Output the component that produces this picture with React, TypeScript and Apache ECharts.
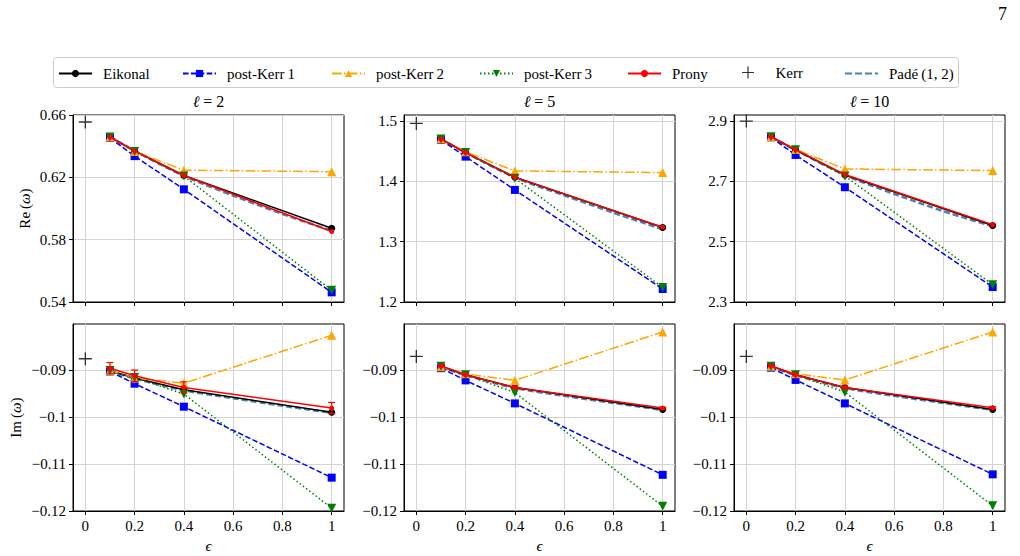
import React, { useEffect, useRef } from "react";
import * as echarts from "echarts";

// ---------------- data ----------------
const EPS = [0.1, 0.2, 0.4, 1];
const PADE_EPS = [0.1, 0.2, 0.4, 0.6, 0.8, 1];
const ELLS = ["2", "5", "10"];
const X_TICKS = [0, 0.2, 0.4, 0.6, 0.8, 1];
const RE_TICKS = [
  [0.54, 0.58, 0.62, 0.66],
  [1.2, 1.3, 1.4, 1.5],
  [2.3, 2.5, 2.7, 2.9],
];
const RE_RANGE = [
  [0.54, 0.66],
  [1.2, 1.51],
  [2.3, 2.92],
];
const IM_TICKS = [-0.12, -0.11, -0.1, -0.09];
const IM_RANGE = [-0.12, -0.0802];

// Real parts, one row per l = 2, 5, 10
const RE_EIKONAL = [
  [0.6459, 0.637, 0.6212, 0.5873],
  [1.4702, 1.4476, 1.4068, 1.3235],
  [2.848, 2.804, 2.7213, 2.5537],
];
const RE_PK1 = [
  [0.6453, 0.6336, 0.6123, 0.5462],
  [1.4686, 1.441, 1.3858, 1.2215],
  [2.846, 2.7875, 2.6805, 2.3497],
];
const RE_PK2 = [
  [0.6459, 0.6366, 0.6246, 0.6236],
  [1.4702, 1.449, 1.4173, 1.4145],
  [2.848, 2.806, 2.7412, 2.7357],
];
const RE_PK3 = [
  [0.6459, 0.6366, 0.6208, 0.5475],
  [1.4702, 1.4478, 1.4051, 1.2242],
  [2.848, 2.805, 2.718, 2.3574],
];
const RE_PRONY = [
  [0.6459, 0.637, 0.6212, 0.5852],
  [1.4702, 1.4476, 1.407, 1.324],
  [2.848, 2.805, 2.7225, 2.556],
];
const RE_PADE = [
  [0.6459, 0.637, 0.621, 0.6083, 0.5965, 0.5857],
  [1.4702, 1.4476, 1.4065, 1.3768, 1.348, 1.3207],
  [2.848, 2.804, 2.721, 2.6585, 2.601, 2.551],
];
const RE_KERR = [0.6555, 1.4961, 2.9];

// Imaginary parts
const IM_EIKONAL = [
  [-0.0902, -0.0917, -0.0942, -0.099],
  [-0.0893, -0.091, -0.0937, -0.0984],
  [-0.0892, -0.091, -0.0937, -0.0984],
];
const IM_PK1 = [
  [-0.0903, -0.0929, -0.0978, -0.1129],
  [-0.0896, -0.0922, -0.0971, -0.1123],
  [-0.0895, -0.0921, -0.0971, -0.1122],
];
const IM_PK2 = [
  [-0.0901, -0.0917, -0.0928, -0.0826],
  [-0.0893, -0.0908, -0.0922, -0.0819],
  [-0.0892, -0.0908, -0.0921, -0.0819],
];
const IM_PK3 = [
  [-0.0901, -0.0916, -0.0951, -0.1194],
  [-0.0892, -0.091, -0.0948, -0.119],
  [-0.0892, -0.091, -0.0947, -0.1189],
];
const IM_PRONY = [
  [-0.0896, -0.0912, -0.0937, -0.0981],
  [-0.0891, -0.091, -0.0937, -0.0981],
  [-0.0891, -0.091, -0.0937, -0.098],
];
const IM_PRONY_ERR = [
  [0.0012, 0.0012, 0.0012, 0.0012],
  [0.0002, 0.0002, 0.0002, 0.0002],
  [0.0002, 0.0002, 0.0002, 0.0002],
];
const IM_PADE = [
  [-0.0902, -0.0918, -0.0943, -0.096, -0.0976, -0.0991],
  [-0.0893, -0.0911, -0.0938, -0.0955, -0.097, -0.0985],
  [-0.0892, -0.0911, -0.0938, -0.0955, -0.097, -0.0985],
];
const IM_KERR = [-0.0876, -0.0871, -0.0871];

const NAMES = ["Eikonal", "post-Kerr\u20091", "post-Kerr\u20092", "post-Kerr\u20093", "Prony", "Kerr", "Pad\u00e9\u2009(1, 2)"];

// ---------------- styling ----------------
const FONT = "'Liberation Serif', 'DejaVu Serif', serif";
const COL_LEFT = [73, 404, 734];
const ROW_TOP = [115, 324];
const GW = 271;
const GH = 187;
const LEGEND_LEFT = [58, 182, 331, 479, 627, 742, 845];

const DOWN_TRI = "path://M0,0L10,0L5,9Z";
const PLUS = "path://M9,0h2v20h-2z M0,9h20v2h-20z";
const DASH_ICON = "path://M0,0h7v2.2h-7z M10,0h7v2.2h-7z M20,0h7v2.2h-7z M30,0h3v2.2h-3z";

const pairs = (xs: number[], ys: number[]) => xs.map((x, i) => [x, ys[i]]);
const fmtIm = (v: number) => String(parseFloat(v.toFixed(3))).replace("-", "\u2212");

export default function App() {
  const ref = useRef<HTMLDivElement>(null);
  useEffect(() => {
    if (!ref.current) return;
    const chart = echarts.init(ref.current, undefined, { renderer: "svg" });

    const grids: any[] = [];
    const xAxes: any[] = [];
    const yAxes: any[] = [];
    const series: any[] = [];
    const titles: any[] = [];

    for (let r = 0; r < 2; r++) {
      for (let c = 0; c < 3; c++) {
        const idx = r * 3 + c;
        grids.push({
          left: COL_LEFT[c],
          top: ROW_TOP[r],
          width: GW,
          height: GH,
          show: true,
          borderColor: "#000",
          borderWidth: 1,
          backgroundColor: "transparent",
        });
        xAxes.push({
          type: "value",
          gridIndex: idx,
          min: -0.05,
          max: 1.05,
          axisLine: { show: true, onZero: false, lineStyle: { color: "#000", width: 1 } },
          axisTick: { show: true, customValues: X_TICKS, length: 4, lineStyle: { color: "#000" } },
          axisLabel: {
            show: r === 1,
            customValues: X_TICKS,
            margin: 7,
            formatter: (v: number) => String(parseFloat(v.toFixed(2))),
            fontFamily: FONT,
            fontSize: 15,
            color: "#000",
          },
          splitLine: { show: true, lineStyle: { color: "#d4d4d4", width: 1 } },
          name: r === 1 ? "\u03f5" : "",
          nameLocation: "middle",
          nameGap: 27,
          nameTextStyle: { fontFamily: FONT, fontSize: 15, fontStyle: "italic", color: "#000" },
        });
        const ticks = r === 0 ? RE_TICKS[c] : IM_TICKS;
        const range = r === 0 ? RE_RANGE[c] : IM_RANGE;
        const fmt =
          r === 0
            ? c === 0
              ? (v: number) => v.toFixed(2)
              : (v: number) => v.toFixed(1)
            : fmtIm;
        yAxes.push({
          type: "value",
          gridIndex: idx,
          min: range[0],
          max: range[1],
          axisLine: { show: true, onZero: false, lineStyle: { color: "#000", width: 1 } },
          axisTick: { show: true, customValues: ticks, length: 4, lineStyle: { color: "#000" } },
          axisLabel: {
            customValues: ticks,
            margin: 7,
            formatter: fmt,
            fontFamily: FONT,
            fontSize: 15,
            color: "#000",
          },
          splitLine: { show: true, lineStyle: { color: "#d4d4d4", width: 1 } },
          name: c === 0 ? (r === 0 ? "{r|Re\u2009(}{i|\u03c9}{r|)}" : "{r|Im\u2009(}{i|\u03c9}{r|)}") : "",
          nameLocation: "middle",
          nameGap: r === 0 ? 41 : 50,
          nameRotate: 90,
          nameTextStyle: {
            fontFamily: FONT,
            fontSize: 15,
            color: "#000",
            rich: {
              r: { fontFamily: FONT, fontSize: 15, color: "#000" },
              i: { fontFamily: FONT, fontSize: 15, fontStyle: "italic", color: "#000" },
            },
          },
        });

        if (r === 0) {
          titles.push({
            text: "{i|\u2113}{r| = " + ELLS[c] + "}",
            left: COL_LEFT[c] + GW / 2,
            top: 93,
            textAlign: "center",
            padding: 0,
            textStyle: {
              fontFamily: FONT,
              fontSize: 16,
              fontWeight: "normal",
              color: "#000",
              rich: {
                i: { fontFamily: FONT, fontSize: 16, fontStyle: "italic", color: "#000" },
                r: { fontFamily: FONT, fontSize: 16, color: "#000" },
              },
            },
          });
        }

        const E = r === 0 ? RE_EIKONAL[c] : IM_EIKONAL[c];
        const P1 = r === 0 ? RE_PK1[c] : IM_PK1[c];
        const P2 = r === 0 ? RE_PK2[c] : IM_PK2[c];
        const P3 = r === 0 ? RE_PK3[c] : IM_PK3[c];
        const PR = r === 0 ? RE_PRONY[c] : IM_PRONY[c];
        const PD = r === 0 ? RE_PADE[c] : IM_PADE[c];
        const K = r === 0 ? RE_KERR[c] : IM_KERR[c];
        const common = { xAxisIndex: idx, yAxisIndex: idx, type: "line", showSymbol: true, clip: false };

        series.push({
          ...common,
          name: NAMES[6],
          data: pairs(PADE_EPS, PD),
          symbol: "none",
          smooth: 0.3,
          lineStyle: { color: "#4682b4", width: 2.5, type: [6, 3] },
          itemStyle: { color: "#4682b4" },
          z: 2,
        });
        series.push({
          ...common,
          name: NAMES[0],
          data: pairs(EPS, E),
          symbol: "circle",
          symbolSize: 7,
          lineStyle: { color: "#000", width: 1.5 },
          itemStyle: { color: "#000" },
          z: 3,
        });
        series.push({
          ...common,
          name: NAMES[1],
          data: pairs(EPS, P1),
          symbol: "rect",
          symbolSize: 8,
          lineStyle: { color: "#0000ff", width: 1.5, type: [5.5, 2.4] },
          itemStyle: { color: "#0000ff" },
          z: 4,
        });
        series.push({
          ...common,
          name: NAMES[2],
          data: pairs(EPS, P2),
          symbol: "triangle",
          symbolSize: 9,
          lineStyle: { color: "#ffa500", width: 1.5, type: [9.6, 2.4, 1.5, 2.4] },
          itemStyle: { color: "#ffa500" },
          z: 5,
        });
        series.push({
          ...common,
          name: NAMES[3],
          data: pairs(EPS, P3),
          symbol: DOWN_TRI,
          symbolSize: 9,
          lineStyle: { color: "#008000", width: 1.5, type: [1.5, 2.5] },
          itemStyle: { color: "#008000" },
          z: 6,
        });
        series.push({
          ...common,
          name: NAMES[4],
          data: pairs(EPS, PR),
          symbol: "circle",
          symbolSize: 5,
          lineStyle: { color: "#ff0000", width: 1.5 },
          itemStyle: { color: "#ff0000" },
          z: 7,
        });
        if (r === 1) {
          const err = IM_PRONY_ERR[c];
          series.push({
            type: "custom",
            name: "Prony error",
            xAxisIndex: idx,
            yAxisIndex: idx,
            z: 7,
            clip: false,
            data: EPS.map((e, i) => [e, PR[i] - err[i], PR[i] + err[i]]),
            encode: { x: 0, y: [1, 2] },
            renderItem: (params: any, api: any) => {
              const x = api.value(0);
              const p1 = api.coord([x, api.value(2)]);
              const p2 = api.coord([x, api.value(1)]);
              const cw = 3.5;
              const st = { stroke: "#ff0000", lineWidth: 1.2 };
              return {
                type: "group",
                children: [
                  { type: "line", shape: { x1: p1[0], y1: p1[1], x2: p2[0], y2: p2[1] }, style: st },
                  { type: "line", shape: { x1: p1[0] - cw, y1: p1[1], x2: p1[0] + cw, y2: p1[1] }, style: st },
                  { type: "line", shape: { x1: p2[0] - cw, y1: p2[1], x2: p2[0] + cw, y2: p2[1] }, style: st },
                ],
              };
            },
          });
        }
        series.push({
          type: "scatter",
          name: NAMES[5],
          xAxisIndex: idx,
          yAxisIndex: idx,
          data: [[0, K]],
          symbol: PLUS,
          symbolSize: 13,
          itemStyle: { color: "#000" },
          z: 8,
        });
      }
    }

    const legends = NAMES.map((n, i) => ({
      data: i === 6 ? [{ name: n, icon: DASH_ICON }] : [n],
      left: LEGEND_LEFT[i],
      top: i === 5 ? 65 : 66,
      padding: 0,
      itemWidth: 33,
      itemHeight: i === 5 ? 12 : 9,
      selectedMode: false,
      z: 10,
      textStyle: { fontFamily: FONT, fontSize: 15, color: "#000", padding: [0, 0, 0, 6] },
    }));

    chart.setOption({
      animation: false,
      textStyle: { fontFamily: FONT },
      title: titles,
      legend: legends,
      grid: grids,
      xAxis: xAxes,
      yAxis: yAxes,
      series,
      graphic: [
        {
          type: "rect",
          z: 1,
          shape: { x: 53.5, y: 57.5, width: 905, height: 30, r: 3 },
          style: { fill: "#fff", stroke: "#cccccc", lineWidth: 1 },
        },
        {
          type: "text",
          left: 998,
          top: 5,
          style: { text: "7", fontFamily: FONT, fontSize: 18, fill: "#000" },
        },
      ],
    });

    return () => chart.dispose();
  }, []);

  return (
    <div
      ref={ref}
      style={{ position: "absolute", left: 0, top: 0, width: 1020, height: 556, background: "#fff" }}
    />
  );
}
